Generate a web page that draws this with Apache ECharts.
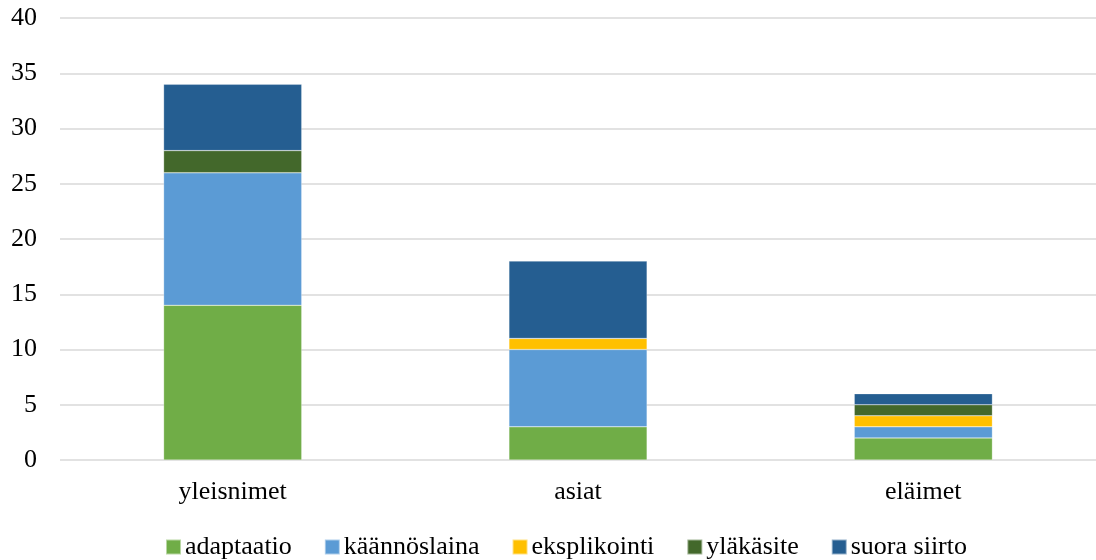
<!DOCTYPE html>
<html>
<head>
<meta charset="utf-8">
<script src="https://cdn.jsdelivr.net/npm/echarts@6/dist/echarts.min.js"></script>
<style>
  html, body { margin: 0; padding: 0; background: #fff; }
  #chart { width: 1096px; height: 560px; }
</style>
</head>
<body>
<div id="chart"></div>
<script>
// categories and series values
const categories = ['yleisnimet', 'asiat', 'eläimet'];
const adaptaatio = [14, 3, 2];
const kaannoslaina = [12, 7, 1];
const eksplikointi = [0, 1, 1];
const ylakasite = [2, 0, 1];
const suoraSiirto = [6, 7, 1];

const seriesDefs = [
  { name: 'adaptaatio', data: adaptaatio, color: '#70AD47' },
  { name: 'käännöslaina', data: kaannoslaina, color: '#5B9BD5' },
  { name: 'eksplikointi', data: eksplikointi, color: '#FFC000' },
  { name: 'yläkäsite', data: ylakasite, color: '#43682B' },
  { name: 'suora siirto', data: suoraSiirto, color: '#255E91' }
];

const font = '"Liberation Serif", "Times New Roman", serif';
const chart = echarts.init(document.getElementById('chart'));

chart.setOption({
  animation: false,
  textStyle: { fontFamily: font },
  grid: { left: 60, right: 0, top: 18, bottom: 100 },
  legend: {
    top: 529,
    left: 160,
    itemWidth: 15,
    itemHeight: 15,
    itemGap: 32,
    icon: 'rect',
    textStyle: { fontFamily: font, fontSize: 26, color: '#000', padding: [0, 0, 0, -1] },
    data: seriesDefs.map(s => s.name)
  },
  xAxis: {
    type: 'category',
    data: categories,
    axisLine: { show: false },
    axisTick: { show: false },
    axisLabel: { fontFamily: font, fontSize: 26, color: '#000', margin: 19 }
  },
  yAxis: {
    type: 'value',
    min: 0,
    max: 40,
    interval: 5,
    axisLine: { show: false },
    axisTick: { show: false },
    axisLabel: { fontFamily: font, fontSize: 26, color: '#000', margin: 23 },
    splitLine: { lineStyle: { color: '#d9d9d9', width: 1.5 } }
  },
  series: seriesDefs.map(s => ({
    name: s.name,
    type: 'bar',
    stack: 'total',
    barWidth: '40%',
    data: s.data,
    itemStyle: { color: s.color, borderColor: 'rgba(255,255,255,0.5)', borderWidth: 0.5 }
  }))
});
</script>
</body>
</html>
